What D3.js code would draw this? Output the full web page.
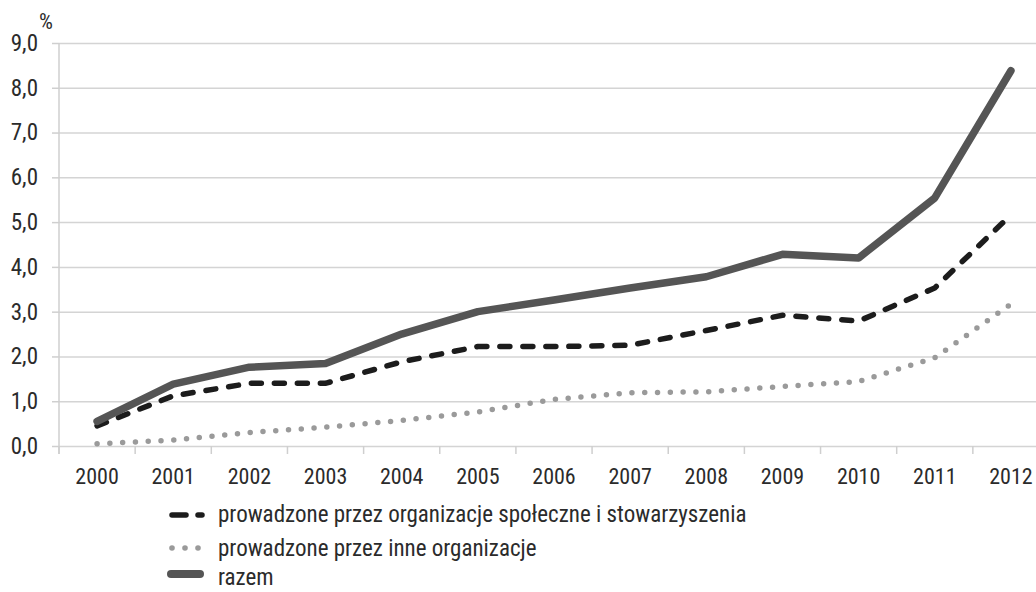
<!DOCTYPE html>
<html>
<head>
<meta charset="utf-8">
<script src="https://cdn.jsdelivr.net/npm/d3@7"></script>
<style>
  body { margin: 0; background: #fff; }
  svg text { font-family: "Roboto Condensed", "Liberation Sans Narrow", Roboto, Arial, sans-serif; fill: #2b2b2b; }
</style>
</head>
<body>
<svg id="chart" width="1036" height="592"></svg>
<script>
const years = ["2000","2001","2002","2003","2004","2005","2006","2007","2008","2009","2010","2011","2012"];
// prowadzone przez organizacje społeczne i stowarzyszenia
const spoleczne = [0.45, 1.12, 1.40, 1.40, 1.88, 2.22, 2.22, 2.25, 2.58, 2.92, 2.79, 3.53, 5.16];
// prowadzone przez inne organizacje
const inne = [0.05, 0.13, 0.30, 0.42, 0.57, 0.76, 1.04, 1.19, 1.21, 1.33, 1.44, 1.97, 3.17];
// razem
const razem = [0.55, 1.38, 1.76, 1.84, 2.50, 3.00, 3.26, 3.53, 3.78, 4.28, 4.20, 5.54, 8.38];
const yTicks = [0, 1, 2, 3, 4, 5, 6, 7, 8, 9];
const legendLabels = [
  "prowadzone przez organizacje społeczne i stowarzyszenia",
  "prowadzone przez inne organizacje",
  "razem"
];

const svg = d3.select("#chart");
const mLeft = 59, mRight = 1049, mTop = 43, mBottom = 446;

const x = d3.scaleBand().domain(years).range([mLeft, mRight]);
const y = d3.scaleLinear().domain([0, 9]).range([mBottom, mTop]);
const cx = d => x(d) + x.bandwidth() / 2;

// gridlines + y labels
svg.append("g")
  .attr("transform", `translate(${mLeft},0)`)
  .call(d3.axisLeft(y).tickValues(yTicks).tickSize(7).tickPadding(14)
    .tickFormat(d => d3.format(".1f")(d).replace(".", ",")))
  .call(g => g.select(".domain").remove())
  .call(g => g.selectAll(".tick line").attr("stroke", "#cfcfcf").attr("stroke-width", 1.5))
  .call(g => g.selectAll(".tick").append("line")
    .attr("x1", 0).attr("x2", mRight - mLeft)
    .attr("stroke", "#d4d4d4").attr("stroke-width", 1.5))
  .call(g => g.selectAll("text").attr("font-size", 23).attr("fill", "#2b2b2b"));

// y axis line
svg.append("line").attr("x1", mLeft).attr("x2", mLeft).attr("y1", mTop).attr("y2", mBottom + 8)
  .attr("stroke", "#cfcfcf").attr("stroke-width", 1.5);

svg.append("text").attr("x", 39).attr("y", 29).attr("font-size", 22).text("%");

// x axis labels
svg.append("g")
  .attr("transform", `translate(0,${mBottom})`)
  .call(d3.axisBottom(x).tickSize(0).tickPadding(22))
  .call(g => g.select(".domain").remove())
  .call(g => g.selectAll("text").attr("font-size", 22).attr("fill", "#2b2b2b"));

// boundary ticks
svg.append("g").selectAll("line")
  .data(years.concat(["end"]))
  .join("line")
  .attr("x1", (d, i) => mLeft + i * x.step())
  .attr("x2", (d, i) => mLeft + i * x.step())
  .attr("y1", mBottom).attr("y2", mBottom + 8)
  .attr("stroke", "#cfcfcf").attr("stroke-width", 1.5);

const line = d3.line().x((d, i) => cx(years[i])).y(d => y(d));

svg.append("path").datum(inne).attr("d", line)
  .attr("fill", "none").attr("stroke", "#9a9a9a").attr("stroke-width", 5.5)
  .attr("stroke-linecap", "round").attr("stroke-dasharray", "0 12.8");

svg.append("path").datum(spoleczne).attr("d", line)
  .attr("fill", "none").attr("stroke", "#1c1c1c").attr("stroke-width", 5.5)
  .attr("stroke-linecap", "round").attr("stroke-dasharray", "10 13");

svg.append("path").datum(razem).attr("d", line)
  .attr("fill", "none").attr("stroke", "#555555").attr("stroke-width", 7.5)
  .attr("stroke-linecap", "round").attr("stroke-linejoin", "round");

// legend
const lg = svg.append("g").attr("transform", "translate(168,0)");
const rows = [514, 548, 577];
lg.append("line").attr("x1", 4).attr("x2", 18).attr("y1", 515).attr("y2", 515)
  .attr("stroke", "#1c1c1c").attr("stroke-width", 5.5).attr("stroke-linecap", "round");
lg.append("line").attr("x1", 30).attr("x2", 34).attr("y1", 515).attr("y2", 515)
  .attr("stroke", "#1c1c1c").attr("stroke-width", 5.5).attr("stroke-linecap", "round");
lg.selectAll("circle").data([4, 17, 30]).join("circle")
  .attr("cx", d => d).attr("cy", 548).attr("r", 2.8).attr("fill", "#9a9a9a");
lg.append("line").attr("x1", 3).attr("x2", 32).attr("y1", 574).attr("y2", 574)
  .attr("stroke", "#555555").attr("stroke-width", 8).attr("stroke-linecap", "round");
lg.selectAll("text").data(legendLabels).join("text")
  .attr("x", 50).attr("y", (d, i) => rows[i]).attr("dy", "0.35em")
  .attr("font-size", 23).text(d => d);
</script>
</body>
</html>
